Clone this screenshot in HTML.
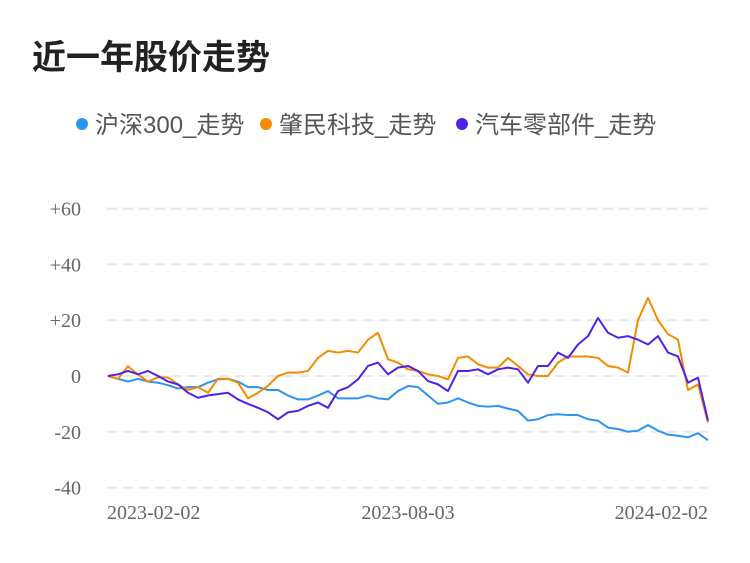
<!DOCTYPE html>
<html><head><meta charset="utf-8"><style>
body{margin:0;background:#fff;width:750px;height:558px;overflow:hidden;font-family:"Liberation Sans","Noto Sans CJK SC",sans-serif}
</style></head><body>
<svg width="750" height="558">
<text x="32" y="69" font-size="34" font-weight="bold" fill="#222" font-family="Liberation Sans, Noto Sans CJK SC, sans-serif">近一年股价走势</text>
<g id="legend" font-size="24" fill="#555" font-family="Liberation Sans, Noto Sans CJK SC, sans-serif"></g>
<g id="grid"></g>
<g id="axes"></g>
<g id="series"></g>
</svg>
<script>
const seriesNames = ["沪深300_走势","肇民科技_走势","汽车零部件_走势"];
const seriesColors = ["#2b93f0","#f58c00","#5121e8"];
const yTicks = [60,40,20,0,-20,-40];
const yTickLabels = ["+60","+40","+20","0","-20","-40"];
const xTickLabels = ["2023-02-02","2023-08-03","2024-02-02"];
const xTickIndex = [0,30,60];
const hs300 = [0,-1,-2,-1,-2,-2.4,-3.3,-4.5,-4,-4,-2.4,-1.2,-1,-2,-4,-4,-5,-5,-7,-8.4,-8.4,-7,-5.4,-8,-8,-8,-7,-8,-8.4,-5.4,-3.6,-4,-7,-10,-9.5,-8,-9.5,-10.7,-11,-10.7,-11.7,-12.5,-16,-15.5,-14,-13.7,-14,-14,-15.5,-16,-18.5,-19,-20,-19.6,-17.6,-19.6,-21,-21.4,-22,-20.5,-23];
const zhaomin = [0,-1,3.5,0.5,-2,-0.5,-0.5,-3,-5,-4,-6,-1,-1,-2.4,-8,-6,-3.5,0,1.2,1.2,1.8,6.5,9,8.4,9,8.4,13,15.5,6,4.8,2.4,1.8,0.6,0,-1.2,6.5,7,4.2,3,3,6.5,3.6,0.6,0,0,4.8,7,7,7,6.5,3.6,3,1.2,20,28,20,15,13,-5,-3,-16.7];
const autoparts = [0,0.6,1.8,0.6,1.8,0,-2,-3,-6,-7.8,-7,-6.5,-6,-8.4,-10,-11.4,-13,-15.5,-13,-12.5,-10.7,-9.5,-11.4,-5.4,-4,-1.2,3.6,4.8,0.6,3,3.6,1.8,-1.8,-3,-5.4,1.8,1.8,2.4,0.6,2.4,3,2.4,-2.4,3.6,3.6,8.4,6.5,11.3,14.3,20.8,15.5,13.7,14.3,13,11.3,14.3,8.4,7,-2.4,-0.6,-16];
const allSeries=[hs300,zhaomin,autoparts];
const X0=108,X1=708,Y0=376,PX=2.79;
const xs=i=>X0+(X1-X0)*i/(hs300.length-1);
const ys=v=>Y0-v*PX;
const NS="http://www.w3.org/2000/svg";
function mk(t,a,p){const e=document.createElementNS(NS,t);for(const k in a)e.setAttribute(k,a[k]);p.appendChild(e);return e;}
const grid=document.getElementById('grid'),axes=document.getElementById('axes'),ser=document.getElementById('series'),leg=document.getElementById('legend');
yTicks.forEach((v,i)=>{
 const l=mk('line',{x1:107,x2:708,y1:ys(v),y2:ys(v),stroke:'#e8e8e8','stroke-width':2,'stroke-dasharray':'10,6'},grid);
 
 
 const t=mk('text',{x:81,y:ys(v)+7,'text-anchor':'end','font-size':20,fill:'#666','font-family':'Liberation Serif, serif'},axes);
 t.textContent=yTickLabels[i];
 
 
});
xTickIndex.forEach((idx,i)=>{
 const t=mk('text',{x:xs(idx),y:519,'text-anchor':i==0?'start':(i==2?'end':'middle'),'font-size':20,fill:'#666','font-family':'Liberation Serif, serif'},axes);
 if(i==0)t.setAttribute('x',xs(idx)-1);
 t.textContent=xTickLabels[i];
 
 
});
allSeries.forEach((s,k)=>{
 const p=mk('polyline',{points:s.map((v,i)=>xs(i)+','+ys(v)).join(' '),fill:'none',stroke:seriesColors[k],'stroke-width':2,'stroke-linejoin':'round'},ser);
 
 
});
const legX=[82,266,462];
seriesNames.forEach((n,k)=>{
 const c=mk('circle',{cx:legX[k],cy:124,r:6,fill:seriesColors[k]},leg);
 
 
 const t=mk('text',{x:legX[k]+13,y:133},leg);
 t.textContent=n;
 
 
});
</script>
</body></html>
